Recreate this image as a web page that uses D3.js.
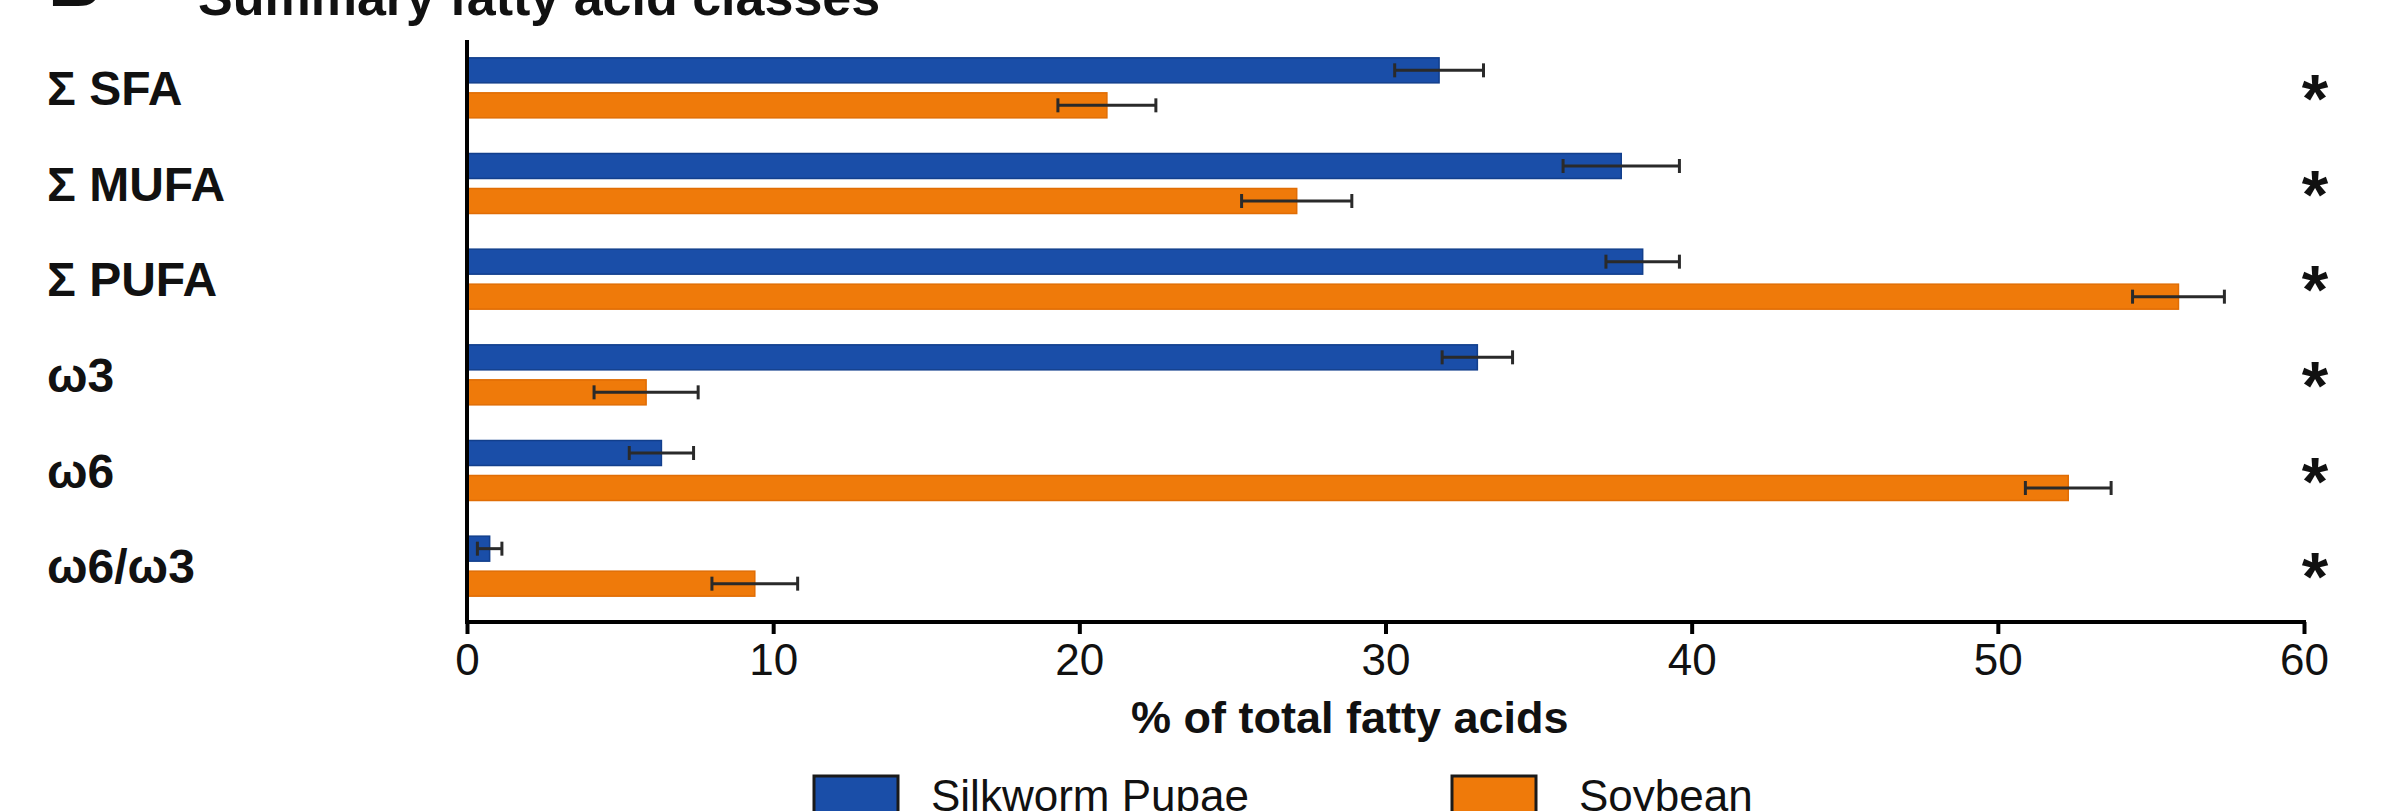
<!DOCTYPE html>
<html>
<head>
<meta charset="utf-8">
<script src="https://cdn.jsdelivr.net/npm/d3@7/dist/d3.min.js"></script>
<style>
  html, body { margin: 0; padding: 0; background: #ffffff; }
  svg { display: block; }
  text { font-family: "Liberation Sans", Arial, Helvetica, sans-serif; fill: #111; }
</style>
</head>
<body>
<svg id="chart" width="2393" height="811"></svg>
<script>
// ---- data ----
const categories = ["Σ SFA", "Σ MUFA", "Σ PUFA", "ω3", "ω6", "ω6/ω3"];
const seriesNames = ["Silkworm Pupae", "Soybean"];
const silkworm    = [31.75, 37.7, 38.4, 33.0, 6.35, 0.74];
const silkwormErr = [1.45, 1.9, 1.2, 1.15, 1.05, 0.4];
const soybean     = [20.9, 27.1, 55.9, 5.85, 52.3, 9.4];
const soybeanErr  = [1.6, 1.8, 1.5, 1.7, 1.4, 1.4];
const significance = ["*", "*", "*", "*", "*", "*"];
const xTicks = [0, 10, 20, 30, 40, 50, 60];
const colors = ["#1a4ea8", "#ef7a0a"];
const strokeColors = ["#123f8c", "#e06d05"];

const svg = d3.select("#chart");

const x = d3.scaleLinear().domain([0, 60]).range([467, 2304]);
const y = d3.scaleBand().domain(categories).range([40, 614]).paddingInner(0).paddingOuter(0);
const yInner = d3.scaleBand().domain(seriesNames)
  .range([y.bandwidth() / 2 - 30, y.bandwidth() / 2 + 30])
  .paddingInner(10 / 35).paddingOuter(0);

const rows = categories.map((c, i) => ({
  cat: c,
  vals: [
    { s: seriesNames[0], v: silkworm[i], e: silkwormErr[i], k: 0 },
    { s: seriesNames[1], v: soybean[i], e: soybeanErr[i], k: 1 }
  ]
}));

// title (partially cut off at top, as in the reference)
svg.append("text").attr("x", 48).attr("y", 6)
  .attr("font-size", 74).attr("font-weight", "bold").text("B");
svg.append("text").attr("x", 198).attr("y", 15)
  .attr("font-size", 52).attr("font-weight", "bold").text("Summary fatty acid classes");

// bars
const g = svg.append("g");
const groups = g.selectAll("g.grp").data(rows).join("g")
  .attr("class", "grp")
  .attr("transform", d => `translate(0,${y(d.cat)})`);

groups.selectAll("rect").data(d => d.vals).join("rect")
  .attr("x", x(0))
  .attr("y", d => yInner(d.s))
  .attr("width", d => x(d.v) - x(0))
  .attr("height", yInner.bandwidth())
  .attr("fill", d => colors[d.k])
  .attr("stroke", d => strokeColors[d.k])
  .attr("stroke-width", 1.5);

// error bars
const eb = groups.selectAll("g.err").data(d => d.vals).join("g").attr("class", "err");
eb.append("line")
  .attr("x1", d => x(d.v - d.e)).attr("x2", d => x(d.v + d.e))
  .attr("y1", d => yInner(d.s) + yInner.bandwidth() / 2)
  .attr("y2", d => yInner(d.s) + yInner.bandwidth() / 2)
  .attr("stroke", "#2a2a2a").attr("stroke-width", 3);
[-1, 1].forEach(sgn => {
  eb.append("line")
    .attr("x1", d => x(d.v + sgn * d.e)).attr("x2", d => x(d.v + sgn * d.e))
    .attr("y1", d => yInner(d.s) + yInner.bandwidth() / 2 - 7)
    .attr("y2", d => yInner(d.s) + yInner.bandwidth() / 2 + 7)
    .attr("stroke", "#2a2a2a").attr("stroke-width", 3);
});

// category labels
svg.selectAll("text.cat").data(categories).join("text")
  .attr("class", "cat")
  .attr("x", 47)
  .attr("y", d => y(d) + y.bandwidth() / 2 + 17)
  .attr("font-size", 48).attr("font-weight", "bold")
  .text(d => d);

// significance asterisks
svg.selectAll("text.sig").data(categories).join("text")
  .attr("class", "sig")
  .attr("x", 2315)
  .attr("y", (d, i) => y(d) + y.bandwidth() / 2 + 34)
  .attr("text-anchor", "middle")
  .attr("font-size", 68).attr("font-weight", "bold")
  .text((d, i) => significance[i]);

// axes
const xAxis = d3.axisBottom(x).tickValues(xTicks).tickSize(12).tickPadding(10).tickFormat(d3.format("d"));
const ax = svg.append("g").attr("transform", "translate(0,622)").call(xAxis);
ax.select(".domain").attr("stroke", "#000").attr("stroke-width", 4)
  .attr("d", `M${x(0) - 2},0H${x(60) + 2}`);
ax.selectAll(".tick line").attr("stroke", "#000").attr("stroke-width", 4);
ax.selectAll(".tick text").attr("font-size", 44).attr("fill", "#111")
  .attr("font-family", "'Liberation Sans', Arial, sans-serif");

svg.append("line")
  .attr("x1", x(0)).attr("x2", x(0))
  .attr("y1", 40).attr("y2", 624)
  .attr("stroke", "#000").attr("stroke-width", 4);

// axis title
svg.append("text").attr("x", 1131).attr("y", 733)
  .attr("font-size", 45).attr("font-weight", "bold")
  .text("% of total fatty acids");

// legend
const legendX = [814, 1452];
const legend = svg.selectAll("g.leg").data(seriesNames).join("g")
  .attr("class", "leg")
  .attr("transform", (d, i) => `translate(${legendX[i]},776)`);
legend.append("rect").attr("width", 84).attr("height", 84)
  .attr("fill", (d, i) => colors[i])
  .attr("stroke", "#1a1a1a").attr("stroke-width", 3);
legend.append("text").attr("x", (d, i) => i === 0 ? 117 : 127).attr("y", 35)
  .attr("font-size", 44)
  .text(d => d);
</script>
</body>
</html>
